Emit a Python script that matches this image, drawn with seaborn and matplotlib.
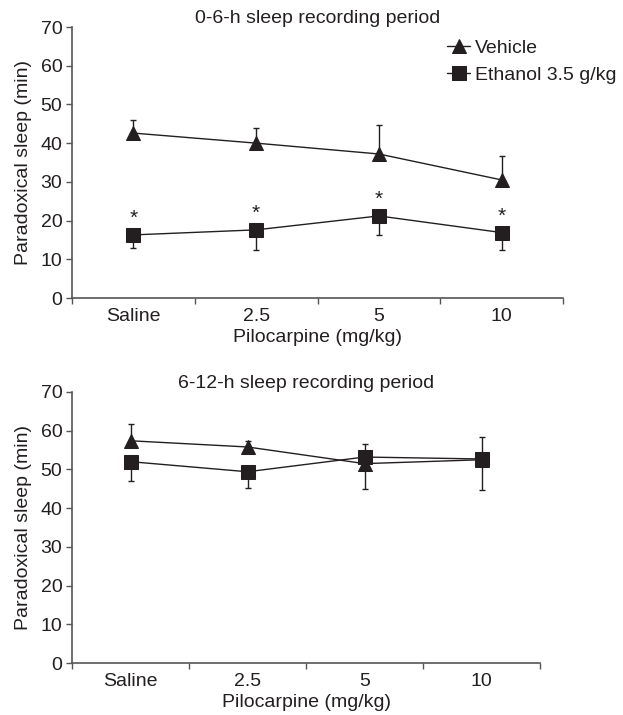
import matplotlib
matplotlib.use("Agg")
import matplotlib.pyplot as plt
import seaborn as sns
import pandas as pd
import numpy as np

sns.set_style("ticks")
plt.rcParams['font.family'] = ['Liberation Sans', 'DejaVu Sans']

doses = ["Saline", "2.5", "5", "10"]
groups = ["Vehicle", "Ethanol 3.5 g/kg"]

# 0-6 h period
veh_06 = [42.6, 40.0, 37.2, 30.5]
veh_06_lo = [0, 0, 0, 0]
veh_06_hi = [3.4, 4.0, 7.4, 6.2]
eth_06 = [16.3, 17.6, 21.2, 16.9]
eth_06_lo = [3.4, 5.1, 4.9, 4.4]
eth_06_hi = [0, 0, 0, 0]
stars_06 = ["*", "*", "*", "*"]

# 6-12 h period
veh_612 = [57.4, 55.8, 51.5, 52.5]
veh_612_lo = [0, 0, 6.5, 0]
veh_612_hi = [4.3, 1.6, 0, 6.0]
eth_612 = [52.0, 49.4, 53.2, 52.7]
eth_612_lo = [5.0, 4.2, 0, 7.9]
eth_612_hi = [0, 0, 3.4, 0]

titles = ["0-6-h sleep recording period", "6-12-h sleep recording period"]
xlabel = "Pilocarpine (mg/kg)"
ylabel = "Paradoxical sleep (min)"
yticks = [0, 10, 20, 30, 40, 50, 60, 70]

INK = "#231f20"
FS = 14
W, H = 623, 715
fig = plt.figure(figsize=(W / 100, H / 100), dpi=100)
ax1 = fig.add_axes([72 / W, 1 - 298 / H, (563 - 72) / W, (298 - 27) / H])
ax2 = fig.add_axes([72 / W, 1 - 663 / H, (540 - 72) / W, (663 - 392) / H])

panels = [
    (ax1, veh_06, veh_06_lo, veh_06_hi, eth_06, eth_06_lo, eth_06_hi),
    (ax2, veh_612, veh_612_lo, veh_612_hi, eth_612, eth_612_lo, eth_612_hi),
]

for i, (ax, v, vlo, vhi, e, elo, ehi) in enumerate(panels):
    df = pd.DataFrame({
        "dose": doses * 2,
        "value": v + e,
        "group": [groups[0]] * 4 + [groups[1]] * 4,
    })
    sns.lineplot(data=df, x="dose", y="value", style="group",
                 markers={groups[0]: "^", groups[1]: "s"},
                 dashes=False, color=INK, markersize=9.5, linewidth=1.0,
                 markeredgecolor=INK, ax=ax, legend=(i == 0), zorder=3)
    pos = np.arange(len(doses))
    ax.errorbar(pos, v, yerr=[vlo, vhi], fmt="none", ecolor=INK,
                elinewidth=1.0, capsize=2.5, capthick=1.0, zorder=2)
    ax.errorbar(pos, e, yerr=[elo, ehi], fmt="none", ecolor=INK,
                elinewidth=1.0, capsize=2.5, capthick=1.0, zorder=2)

    ax.set_xlim(-0.5, len(doses) - 0.5)
    ax.set_ylim(0, 70)
    ax.set_yticks(yticks)
    ax.set_xticks(pos)
    ax.set_xticklabels(doses)
    ax.set_xticks(np.arange(-0.5, len(doses)), minor=True)
    ax.tick_params(axis="x", which="major", length=0, labelsize=FS,
                   colors=INK, pad=7)
    ax.tick_params(axis="x", which="minor", length=4, width=1, color="#555555")
    ax.tick_params(axis="y", length=4, width=1, color="#555555",
                   labelsize=FS, labelcolor=INK, pad=3)
    for s in ["top", "right"]:
        ax.spines[s].set_visible(False)
    for s in ["left", "bottom"]:
        ax.spines[s].set_color("#555555")
        ax.spines[s].set_linewidth(1.2)
    ax.set_xlabel(xlabel, fontsize=FS, color=INK, labelpad=3)
    ax.set_ylabel(ylabel, fontsize=FS, color=INK, labelpad=6)
    ax.set_title(titles[i], fontsize=FS, color=INK, pad=1.5)

# significance stars on ethanol points (0-6 h)
for j, s in enumerate(stars_06):
    ax1.text(j, eth_06[j] + 4.2, s, ha="center", va="center",
             fontsize=15, color=INK)

leg = ax1.legend(loc="upper left", bbox_to_anchor=(447 / W, 1 - 39 / H),
                 bbox_transform=fig.transFigure, frameon=False,
                 fontsize=FS, handlelength=1.2, handletextpad=0.25,
                 labelspacing=0.5, borderpad=0, borderaxespad=0)
for t in leg.get_texts():
    t.set_color(INK)

fig.savefig("out.png", dpi=100)
